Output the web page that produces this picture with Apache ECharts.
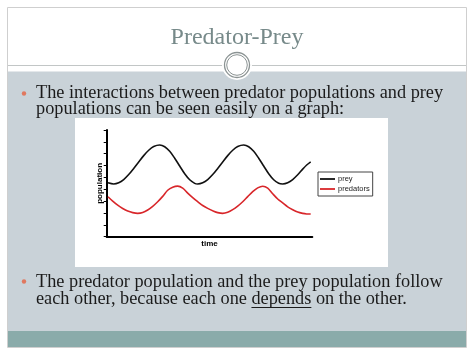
<!DOCTYPE html>
<html><head><meta charset="utf-8">
<script src="https://cdn.jsdelivr.net/npm/echarts@6/dist/echarts.min.js"></script>
<style>html,body{margin:0;padding:0;background:#fff}#c{width:474px;height:355px}</style>
</head><body><div id="c"></div>
<script>
// ---- texts ----
const titleText = 'Predator-Prey';
const bullet1Lines = ['The interactions between predator populations and prey', 'populations can be seen easily on a graph:'];
const bullet2Line1 = 'The predator population and the prey population follow';
const bullet2Line2 = ['each other, because each one ', 'depends', ' on the other.'];
const seriesNames = ['prey', 'predators'];
const xAxisName = 'time';
const yAxisName = 'population';

// ---- data (time units along the x axis, population units on y axis) ----
const preyTime   = [1.3, 7, 12, 17, 22, 27, 32, 37, 42, 47, 53, 58, 63, 68, 73, 78, 83, 88, 91, 96, 101, 106, 111, 116, 121, 126, 131, 137, 142, 147, 152, 157, 162, 167, 172, 176, 181, 186, 191, 196, 200, 204];
const preyValues = [4.55, 4.45, 4.55, 4.82, 5.24, 5.76, 6.31, 6.84, 7.29, 7.60, 7.73, 7.59, 7.20, 6.62, 5.96, 5.31, 4.80, 4.50, 4.45, 4.55, 4.82, 5.24, 5.76, 6.31, 6.84, 7.29, 7.60, 7.73, 7.59, 7.20, 6.62, 5.96, 5.31, 4.80, 4.50, 4.45, 4.55, 4.82, 5.22, 5.70, 6.05, 6.32];
const predTime   = [1.3, 6, 11, 16, 21, 26, 31, 36, 41, 46, 51, 56, 61, 66, 71, 76, 81, 86, 91, 96, 101, 107, 111, 116, 121, 126, 131, 136, 141, 146, 151, 156, 161, 166, 171, 176, 181, 186, 191, 196, 200, 204];
const predValues = [3.37, 3.00, 2.66, 2.38, 2.16, 2.03, 1.97, 2.04, 2.25, 2.56, 2.95, 3.40, 3.92, 4.18, 4.27, 4.10, 3.68, 3.30, 2.95, 2.63, 2.39, 2.15, 2.03, 1.97, 2.06, 2.28, 2.58, 2.95, 3.38, 3.80, 4.12, 4.26, 4.10, 3.62, 3.18, 2.85, 2.52, 2.28, 2.08, 1.97, 1.92, 1.91];

const preyData = preyTime.map((t, i) => [t, preyValues[i]]);
const predData = predTime.map((t, i) => [t, predValues[i]]);

const bodyFont = '"Liberation Serif", "DejaVu Serif", serif';
const ctx = document.createElement('canvas').getContext('2d');
ctx.font = '100px ' + bodyFont;
const bodySize = Math.round(100 * 407 / ctx.measureText(bullet1Lines[0]).width * 10) / 10;
ctx.font = bodySize + 'px ' + bodyFont;
const preW = ctx.measureText(bullet2Line2[0]).width;
const depW = ctx.measureText(bullet2Line2[1]).width;

const textX = 36;
const base = [99.5, 115.5, 288.3, 305.5];
const mid = b => b - 0.34 * bodySize;

const chart = echarts.init(document.getElementById('c'), null, {renderer: 'canvas'});
chart.setOption({
  animation: false,
  backgroundColor: '#fff',
  graphic: [
    {type: 'rect', z: -100, silent: true, shape: {x: 7.5, y: 7.5, width: 459, height: 340}, style: {fill: '#fff', stroke: '#cfcfcf', lineWidth: 1}},
    {type: 'rect', z: -99, silent: true, shape: {x: 8, y: 71.5, width: 458, height: 259.5}, style: {fill: '#c9d2d8'}},
    {type: 'rect', z: -99, silent: true, shape: {x: 8, y: 331, width: 458, height: 16}, style: {fill: '#8aabaa'}},
    {type: 'line', z: -98, silent: true, shape: {x1: 8, y1: 65.5, x2: 466, y2: 65.5}, style: {stroke: '#c2c6c6', lineWidth: 1}},
    {type: 'circle', z: -97, silent: true, shape: {cx: 237, cy: 65, r: 15}, style: {fill: '#fff'}},
    {type: 'circle', z: -96, silent: true, shape: {cx: 237, cy: 65, r: 12.5}, style: {fill: '#fff', stroke: '#8c9494', lineWidth: 1.3}},
    {type: 'circle', z: -96, silent: true, shape: {cx: 237, cy: 65, r: 10.3}, style: {fill: 'none', stroke: '#8c9494', lineWidth: 1}},
    {type: 'rect', z: -95, silent: true, shape: {x: 75, y: 118, width: 313, height: 149}, style: {fill: '#fff'}},
    {type: 'text', silent: true, x: 237, y: 38, style: {text: titleText, font: '24px "Liberation Serif", "DejaVu Serif", serif', fill: '#778a8a', align: 'center', verticalAlign: 'middle'}},
    {type: 'circle', silent: true, shape: {cx: 24, cy: 93.5, r: 2.2}, style: {fill: '#e0785f'}},
    {type: 'circle', silent: true, shape: {cx: 24, cy: 281.5, r: 2.2}, style: {fill: '#e0785f'}},
    {type: 'text', silent: true, x: textX, y: mid(base[0]), style: {text: bullet1Lines[0], font: bodySize + 'px ' + bodyFont, fill: '#1b1b1b', verticalAlign: 'middle'}},
    {type: 'text', silent: true, x: textX, y: mid(base[1]), style: {text: bullet1Lines[1], font: bodySize + 'px ' + bodyFont, fill: '#1b1b1b', verticalAlign: 'middle'}},
    {type: 'text', silent: true, x: textX, y: mid(base[2]), style: {text: bullet2Line1, font: bodySize + 'px ' + bodyFont, fill: '#1b1b1b', verticalAlign: 'middle'}},
    {type: 'text', silent: true, x: textX, y: mid(base[3]), style: {text: bullet2Line2.join(''), font: bodySize + 'px ' + bodyFont, fill: '#1b1b1b', verticalAlign: 'middle'}},
    {type: 'line', silent: true, shape: {x1: textX + preW, y1: base[3] + 2, x2: textX + preW + depW, y2: base[3] + 2}, style: {stroke: '#1b1b1b', lineWidth: 1}}
  ],
  grid: {left: 106.7, top: 130, right: 474 - 312.3, bottom: 355 - 236.7, containLabel: false},
  legend: {
    left: 318, top: 172, orient: 'vertical',
    data: seriesNames,
    icon: 'rect',
    borderColor: '#444', borderWidth: 1, padding: [3, 3, 3, 2],
    itemGap: 2, itemWidth: 15, itemHeight: 1.8,
    textStyle: {fontSize: 7.5, fontFamily: '"Liberation Sans", Arial, sans-serif', color: '#222', padding: [0, 0, 0, -2]}
  },
  xAxis: {
    type: 'value', min: 0, max: 205.6,
    name: xAxisName, nameLocation: 'middle', nameGap: 3,
    nameTextStyle: {fontSize: 8, fontWeight: 'bold', fontFamily: '"Liberation Sans", Arial, sans-serif', color: '#000', verticalAlign: 'top'},
    axisLine: {lineStyle: {color: '#000', width: 2}},
    axisTick: {show: false}, axisLabel: {show: false}, splitLine: {show: false}
  },
  yAxis: {
    type: 'value', min: 0, max: 9, interval: 1,
    name: yAxisName, nameLocation: 'middle', nameGap: 3, nameRotate: 90,
    nameTextStyle: {fontSize: 8, fontWeight: 'bold', fontFamily: '"Liberation Sans", Arial, sans-serif', color: '#000'},
    axisLine: {show: true, lineStyle: {color: '#000', width: 2}},
    axisTick: {show: true, length: 3, lineStyle: {color: '#000', width: 1}},
    axisLabel: {show: false}, splitLine: {show: false}
  },
  series: [
    {name: seriesNames[0], type: 'line', data: preyData, smooth: 0.3, symbol: 'none', lineStyle: {color: '#111', width: 1.6}, itemStyle: {color: '#111'}},
    {name: seriesNames[1], type: 'line', data: predData, smooth: 0.3, symbol: 'none', lineStyle: {color: '#d8262a', width: 1.6}, itemStyle: {color: '#d8262a'}}
  ]
});
</script></body></html>
